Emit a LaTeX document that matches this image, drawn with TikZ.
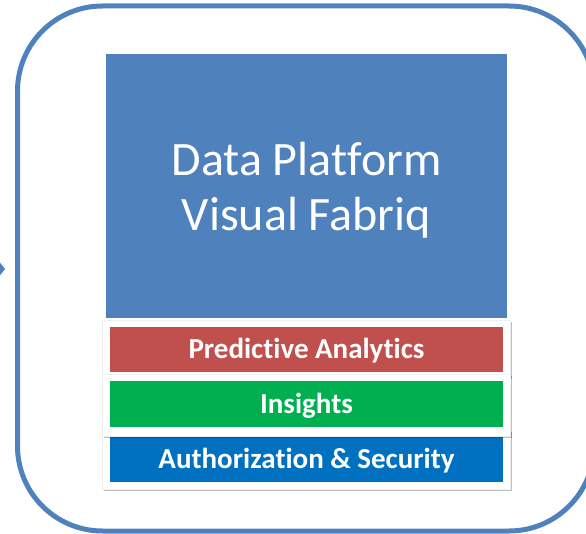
\documentclass[tikz,border=0pt]{standalone}
\usepackage{fontspec}
\setmainfont[Ligatures=NoCommon]{Carlito}
\usetikzlibrary{shadows}
\definecolor{frameblue}{HTML}{4F81BD}
\definecolor{barred}{HTML}{C0504D}
\definecolor{bargreen}{HTML}{00B050}
\definecolor{barblue}{HTML}{0070C0}
\begin{document}
\begin{tikzpicture}[x=1pt,y=-1pt,
  card/.style={fill=white, draw=black!6, line width=0.4pt, minimum width=408pt, inner sep=0pt,
    drop shadow={shadow xshift=1.5pt, shadow yshift=-2pt, opacity=0.25, fill=black}},
  bar/.style={minimum width=393pt, minimum height=45pt, inner sep=0pt, text=white,
    text height=18.6pt, text depth=0pt,
    font=\bfseries\fontsize{29}{34}\selectfont},
]
\useasboundingbox (0,0) rectangle (586,534);
\clip (0,0) rectangle (586,534);
\fill[frameblue] (-6,255) -- (5,269) -- (-6,283) -- cycle;
\draw[frameblue, line width=5pt, rounded corners=85pt] (17.5,6) rectangle (594,531);
\node[fill=frameblue, minimum width=401pt, minimum height=264pt, inner sep=0pt] (main) at (306.5,186) {};
\node[text=white, align=center, inner sep=0pt, font=\fontsize{48}{55}\selectfont] (maintext) at (306.5,190) {Data Platform\\Visual Fabriq};
\node[card, minimum height=59pt] (authcard) at (306,459.5) {};
\node[bar, fill=barblue] (auth) at (306.5,459.5) {Authorization \& Security};
\node[card, minimum height=57pt] (predcard) at (306,348.5) {};
\node[bar, fill=barred] (pred) at (306.5,349.5) {Predictive Analytics};
\node[card, minimum height=62pt] (inscard) at (306,405) {};
\node[bar, fill=bargreen, minimum height=46pt] (ins) at (306.5,404) {Insights};
\end{tikzpicture}
\end{document}
